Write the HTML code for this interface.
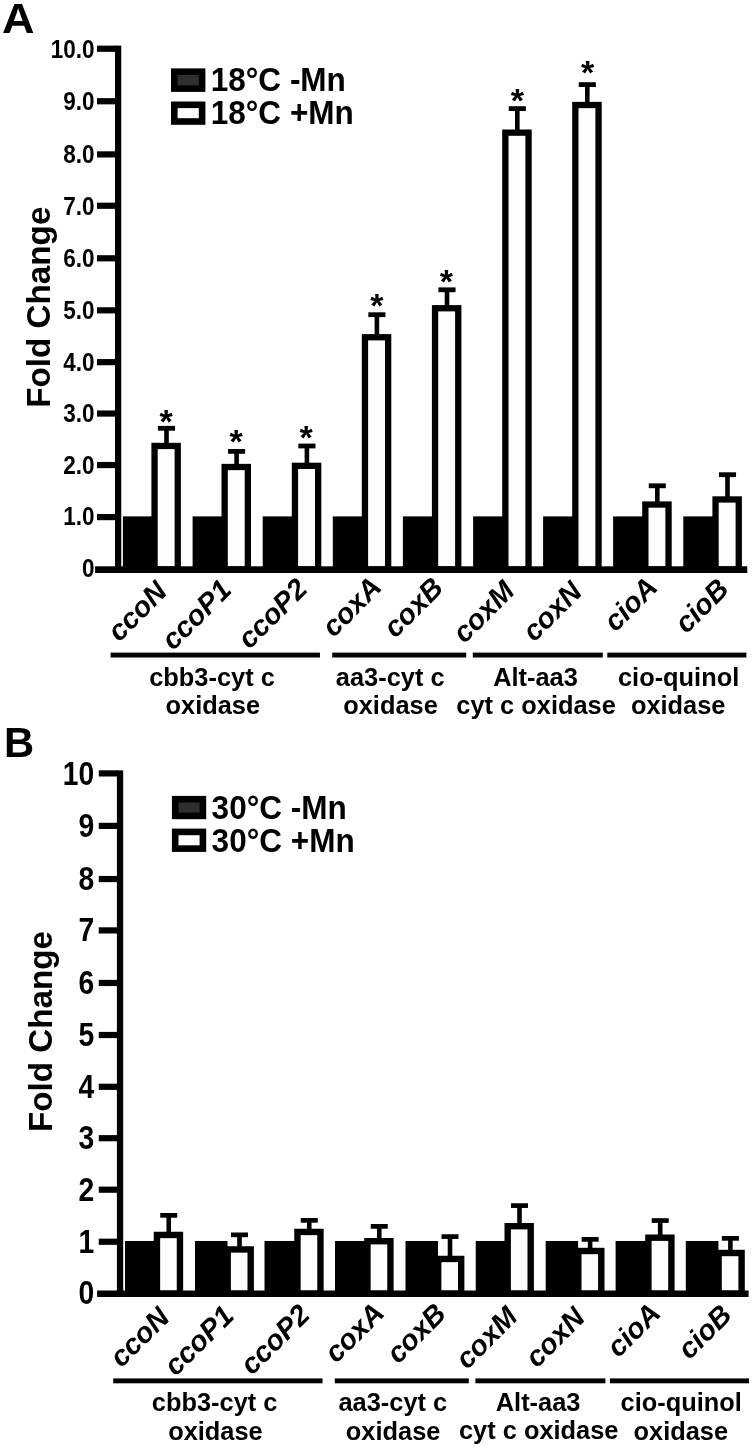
<!DOCTYPE html>
<html lang="en">
<head>
<meta charset="utf-8">
<title>Fold change of terminal oxidase genes</title>
<style>
html,body{margin:0;padding:0;background:#fff;}
body{width:752px;height:1448px;overflow:hidden;}
svg{display:block;}
text{white-space:pre;}
</style>
</head>
<body>
<svg width="752" height="1448" viewBox="0 0 752 1448" font-family="'Liberation Sans', sans-serif" font-weight="bold" fill="#000">
<g id="panel-A">
<rect x="122.9" y="516.4" width="31.5" height="50.9" fill="#000"/>
<rect x="151.4" y="442.8" width="29.5" height="124.5" fill="#000"/>
<rect x="157.7" y="449.1" width="16.9" height="117.2" fill="#fdfdfd"/>
<rect x="164.2" y="426.9" width="4.6" height="16.9" fill="#000"/>
<rect x="157.95" y="425.9" width="17.1" height="4.8" fill="#000"/>
<text transform="translate(166.1 432.76)" font-size="34" text-anchor="middle">*</text>
<rect x="192.6" y="516.4" width="31.9" height="50.9" fill="#000"/>
<rect x="221.5" y="463.85" width="29.5" height="103.45" fill="#000"/>
<rect x="227.8" y="470.15" width="16.9" height="96.15" fill="#fdfdfd"/>
<rect x="234.3" y="450" width="4.6" height="14.85" fill="#000"/>
<rect x="228.05" y="449" width="17.1" height="4.8" fill="#000"/>
<text transform="translate(236.1 453.16)" font-size="34" text-anchor="middle">*</text>
<rect x="262.7" y="516.4" width="32.1" height="50.9" fill="#000"/>
<rect x="291.8" y="462.7" width="29.5" height="104.6" fill="#000"/>
<rect x="298.1" y="469" width="16.9" height="97.3" fill="#fdfdfd"/>
<rect x="304.6" y="444.6" width="4.6" height="19.1" fill="#000"/>
<rect x="298.35" y="443.6" width="17.1" height="4.8" fill="#000"/>
<text transform="translate(306.2 448.86)" font-size="34" text-anchor="middle">*</text>
<rect x="332.8" y="516.4" width="32" height="50.9" fill="#000"/>
<rect x="361.8" y="334.1" width="29.5" height="233.2" fill="#000"/>
<rect x="368.1" y="340.4" width="16.9" height="225.9" fill="#fdfdfd"/>
<rect x="374.6" y="313.3" width="4.6" height="21.8" fill="#000"/>
<rect x="368.35" y="312.3" width="17.1" height="4.8" fill="#000"/>
<text transform="translate(376.9 316.66)" font-size="34" text-anchor="middle">*</text>
<rect x="402.9" y="516.4" width="32" height="50.9" fill="#000"/>
<rect x="431.9" y="305.1" width="29.5" height="262.2" fill="#000"/>
<rect x="438.2" y="311.4" width="16.9" height="254.9" fill="#fdfdfd"/>
<rect x="444.7" y="288.4" width="4.6" height="17.7" fill="#000"/>
<rect x="438.45" y="287.4" width="17.1" height="4.8" fill="#000"/>
<text transform="translate(446.35 292.76)" font-size="34" text-anchor="middle">*</text>
<rect x="473.1" y="516.4" width="32.1" height="50.9" fill="#000"/>
<rect x="502.2" y="129.5" width="29.5" height="437.8" fill="#000"/>
<rect x="508.5" y="135.8" width="16.9" height="430.5" fill="#fdfdfd"/>
<rect x="515" y="107.2" width="4.6" height="23.3" fill="#000"/>
<rect x="508.75" y="106.2" width="17.1" height="4.8" fill="#000"/>
<text transform="translate(517.35 111.96)" font-size="34" text-anchor="middle">*</text>
<rect x="543.1" y="516.4" width="32.1" height="50.9" fill="#000"/>
<rect x="572.2" y="101.85" width="29.5" height="465.45" fill="#000"/>
<rect x="578.5" y="108.15" width="16.9" height="458.15" fill="#fdfdfd"/>
<rect x="585" y="83.2" width="4.6" height="19.65" fill="#000"/>
<rect x="578.75" y="82.2" width="17.1" height="4.8" fill="#000"/>
<text transform="translate(587.5 84.46)" font-size="34" text-anchor="middle">*</text>
<rect x="613.1" y="516.4" width="32.1" height="50.9" fill="#000"/>
<rect x="642.2" y="501.4" width="29.5" height="65.9" fill="#000"/>
<rect x="648.5" y="507.7" width="16.9" height="58.6" fill="#fdfdfd"/>
<rect x="655" y="484.4" width="4.6" height="18" fill="#000"/>
<rect x="648.75" y="483.4" width="17.1" height="4.8" fill="#000"/>
<rect x="683.3" y="516.4" width="32.1" height="50.9" fill="#000"/>
<rect x="712.4" y="496.3" width="29.5" height="71" fill="#000"/>
<rect x="718.7" y="502.6" width="16.9" height="63.7" fill="#fdfdfd"/>
<rect x="725.2" y="473.3" width="4.6" height="24" fill="#000"/>
<rect x="718.95" y="472.3" width="17.1" height="4.8" fill="#000"/>
<rect x="115" y="45.6" width="6.25" height="527.4" fill="#000"/>
<rect x="95.1" y="566.3" width="652.15" height="6.7" fill="#000"/>
<text transform="translate(94.6 576.65) scale(0.8720 1)" font-size="25.8" text-anchor="end">0</text>
<rect x="97" y="514" width="19" height="6.2" fill="#000"/>
<text transform="translate(94.6 525.35) scale(0.8720 1)" font-size="25.8" text-anchor="end">1.0</text>
<rect x="97" y="461.95" width="19" height="6.2" fill="#000"/>
<text transform="translate(94.6 474.2) scale(0.8720 1)" font-size="25.8" text-anchor="end">2.0</text>
<rect x="97" y="410.45" width="19" height="6.2" fill="#000"/>
<text transform="translate(94.6 421.8) scale(0.8720 1)" font-size="25.8" text-anchor="end">3.0</text>
<rect x="97" y="359.05" width="19" height="6.2" fill="#000"/>
<text transform="translate(94.6 371.3) scale(0.8720 1)" font-size="25.8" text-anchor="end">4.0</text>
<rect x="97" y="307.25" width="19" height="6.2" fill="#000"/>
<text transform="translate(94.6 318.5) scale(0.8720 1)" font-size="25.8" text-anchor="end">5.0</text>
<rect x="97" y="255.2" width="19" height="6.2" fill="#000"/>
<text transform="translate(94.6 266.85) scale(0.8720 1)" font-size="25.8" text-anchor="end">6.0</text>
<rect x="97" y="202.65" width="19" height="6.2" fill="#000"/>
<text transform="translate(94.6 214.5) scale(0.8720 1)" font-size="25.8" text-anchor="end">7.0</text>
<rect x="97" y="151.3" width="19" height="6.2" fill="#000"/>
<text transform="translate(94.6 163.15) scale(0.8720 1)" font-size="25.8" text-anchor="end">8.0</text>
<rect x="97" y="98.15" width="19" height="6.2" fill="#000"/>
<text transform="translate(94.6 110) scale(0.8720 1)" font-size="25.8" text-anchor="end">9.0</text>
<rect x="97" y="45.65" width="19" height="6.2" fill="#000"/>
<text transform="translate(94.6 57.5) scale(0.8720 1)" font-size="25.8" text-anchor="end">10.0</text>
<text transform="translate(49.8 307.2) rotate(-90) scale(1.0160 1)" font-size="32.7" text-anchor="middle">Fold Change</text>
<text transform="translate(2 33.1) scale(1.0550 1)" font-size="42.7">A</text>
<rect x="171" y="68.4" width="34.4" height="23.5" fill="#000"/>
<rect x="177.6" y="75" width="21.2" height="10.3" fill="#2f2f2f"/>
<text transform="translate(210.7 91.4) scale(0.9760 1)" font-size="32.3">18°C -Mn</text>
<rect x="171" y="101.5" width="34.4" height="23.3" fill="#000"/>
<rect x="177.6" y="108.1" width="21.2" height="10.1" fill="#fdfdfd"/>
<text transform="translate(210.7 124.4) scale(0.9760 1)" font-size="32.3">18°C +Mn</text>
<text transform="translate(168.6 593.2) rotate(-45)" font-size="28.6" font-style="italic" text-anchor="end">ccoN</text>
<text transform="translate(232.9 591.6) rotate(-45)" font-size="28.6" font-style="italic" text-anchor="end">ccoP1</text>
<text transform="translate(309 590.5) rotate(-45)" font-size="28.6" font-style="italic" text-anchor="end">ccoP2</text>
<text transform="translate(383.1 588.7) rotate(-45)" font-size="28.6" font-style="italic" text-anchor="end">coxA</text>
<text transform="translate(444.8 589.5) rotate(-45)" font-size="28.6" font-style="italic" text-anchor="end">coxB</text>
<text transform="translate(516.2 592.6) rotate(-45)" font-size="28.6" font-style="italic" text-anchor="end">coxM</text>
<text transform="translate(583.6 593.3) rotate(-45)" font-size="28.6" font-style="italic" text-anchor="end">coxN</text>
<text transform="translate(659.2 588.9) rotate(-45)" font-size="28.6" font-style="italic" text-anchor="end">cioA</text>
<text transform="translate(730.3 590.7) rotate(-45)" font-size="28.6" font-style="italic" text-anchor="end">cioB</text>
<rect x="110.6" y="652.6" width="209.35" height="4.9" fill="#000"/>
<rect x="332.2" y="652.6" width="134" height="4.9" fill="#000"/>
<rect x="472.8" y="652.6" width="130" height="4.9" fill="#000"/>
<rect x="607.3" y="652.6" width="139.1" height="4.9" fill="#000"/>
<text transform="translate(212 685.5) scale(1.0200 1)" font-size="24.9" text-anchor="middle">cbb3-cyt c</text>
<text transform="translate(212.8 713.8) scale(1.0200 1)" font-size="24.9" text-anchor="middle">oxidase</text>
<text transform="translate(390.2 685.5) scale(1.0200 1)" font-size="24.9" text-anchor="middle">aa3-cyt c</text>
<text transform="translate(390.5 713.8) scale(1.0200 1)" font-size="24.9" text-anchor="middle">oxidase</text>
<text transform="translate(535.5 685.5) scale(1.0200 1)" font-size="24.9" text-anchor="middle">Alt-aa3</text>
<text transform="translate(536.1 713.6) scale(1.0200 1)" font-size="24.9" text-anchor="middle">cyt c oxidase</text>
<text transform="translate(678.6 685.5) scale(1.0200 1)" font-size="24.9" text-anchor="middle">cio-quinol</text>
<text transform="translate(678.2 713.8) scale(1.0200 1)" font-size="24.9" text-anchor="middle">oxidase</text>
</g>
<g id="panel-B">
<rect x="125" y="1241" width="31.75" height="50.5" fill="#000"/>
<rect x="153.75" y="1231.75" width="29.4" height="59.75" fill="#000"/>
<rect x="160.15" y="1238.15" width="16.6" height="52.35" fill="#fdfdfd"/>
<rect x="166.45" y="1214" width="4.6" height="18.75" fill="#000"/>
<rect x="160.25" y="1213" width="17" height="4.7" fill="#000"/>
<rect x="195" y="1241" width="32.5" height="50.5" fill="#000"/>
<rect x="224.5" y="1246.25" width="29.4" height="45.25" fill="#000"/>
<rect x="230.9" y="1252.65" width="16.6" height="37.85" fill="#fdfdfd"/>
<rect x="237.2" y="1233.5" width="4.6" height="13.75" fill="#000"/>
<rect x="231" y="1232.5" width="17" height="4.7" fill="#000"/>
<rect x="264.5" y="1241" width="32.75" height="50.5" fill="#000"/>
<rect x="294.25" y="1228.75" width="29.4" height="62.75" fill="#000"/>
<rect x="300.65" y="1235.15" width="16.6" height="55.35" fill="#fdfdfd"/>
<rect x="306.95" y="1219" width="4.6" height="10.75" fill="#000"/>
<rect x="300.75" y="1218" width="17" height="4.7" fill="#000"/>
<rect x="335" y="1241" width="32.25" height="50.5" fill="#000"/>
<rect x="364.25" y="1238" width="29.4" height="53.5" fill="#000"/>
<rect x="370.65" y="1244.4" width="16.6" height="46.1" fill="#fdfdfd"/>
<rect x="376.95" y="1225" width="4.6" height="14" fill="#000"/>
<rect x="370.75" y="1224" width="17" height="4.7" fill="#000"/>
<rect x="405.5" y="1241" width="32.5" height="50.5" fill="#000"/>
<rect x="435" y="1255.75" width="29.4" height="35.75" fill="#000"/>
<rect x="441.4" y="1262.15" width="16.6" height="28.35" fill="#fdfdfd"/>
<rect x="447.7" y="1235.25" width="4.6" height="21.5" fill="#000"/>
<rect x="441.5" y="1234.25" width="17" height="4.7" fill="#000"/>
<rect x="475.75" y="1241" width="31.75" height="50.5" fill="#000"/>
<rect x="504.5" y="1223" width="29.4" height="68.5" fill="#000"/>
<rect x="510.9" y="1229.4" width="16.6" height="61.1" fill="#fdfdfd"/>
<rect x="517.2" y="1204.25" width="4.6" height="19.75" fill="#000"/>
<rect x="511" y="1203.25" width="17" height="4.7" fill="#000"/>
<rect x="545.7" y="1241" width="32.4" height="50.5" fill="#000"/>
<rect x="575.1" y="1247.8" width="29.4" height="43.7" fill="#000"/>
<rect x="581.5" y="1254.2" width="16.6" height="36.3" fill="#fdfdfd"/>
<rect x="587.8" y="1238" width="4.6" height="10.8" fill="#000"/>
<rect x="581.6" y="1237" width="17" height="4.7" fill="#000"/>
<rect x="615.6" y="1241" width="32.6" height="50.5" fill="#000"/>
<rect x="645.2" y="1234.5" width="29.4" height="57" fill="#000"/>
<rect x="651.6" y="1240.9" width="16.6" height="49.6" fill="#fdfdfd"/>
<rect x="657.9" y="1219.2" width="4.6" height="16.3" fill="#000"/>
<rect x="651.7" y="1218.2" width="17" height="4.7" fill="#000"/>
<rect x="685.8" y="1241" width="32.6" height="50.5" fill="#000"/>
<rect x="715.4" y="1249.8" width="29.4" height="41.7" fill="#000"/>
<rect x="721.8" y="1256.2" width="16.6" height="34.3" fill="#fdfdfd"/>
<rect x="728.1" y="1237" width="4.6" height="13.8" fill="#000"/>
<rect x="721.9" y="1236" width="17" height="4.7" fill="#000"/>
<rect x="116.9" y="770.4" width="6.3" height="526.6" fill="#000"/>
<rect x="97.1" y="1290.5" width="651.5" height="6.5" fill="#000"/>
<text transform="translate(94.25 1303.9) scale(0.8700 1)" font-size="32.5" text-anchor="end">0</text>
<rect x="98.75" y="1238.65" width="19.15" height="6.2" fill="#000"/>
<text transform="translate(94.25 1252.95) scale(0.8700 1)" font-size="32.5" text-anchor="end">1</text>
<rect x="98.75" y="1186.6" width="19.15" height="6.2" fill="#000"/>
<text transform="translate(94.25 1200.9) scale(0.8700 1)" font-size="32.5" text-anchor="end">2</text>
<rect x="98.75" y="1135.1" width="19.15" height="6.2" fill="#000"/>
<text transform="translate(94.25 1149.4) scale(0.8700 1)" font-size="32.5" text-anchor="end">3</text>
<rect x="98.75" y="1083.7" width="19.15" height="6.2" fill="#000"/>
<text transform="translate(94.25 1098) scale(0.8700 1)" font-size="32.5" text-anchor="end">4</text>
<rect x="98.75" y="1031.9" width="19.15" height="6.2" fill="#000"/>
<text transform="translate(94.25 1046.2) scale(0.8700 1)" font-size="32.5" text-anchor="end">5</text>
<rect x="98.75" y="979.85" width="19.15" height="6.2" fill="#000"/>
<text transform="translate(94.25 994.15) scale(0.8700 1)" font-size="32.5" text-anchor="end">6</text>
<rect x="98.75" y="927.3" width="19.15" height="6.2" fill="#000"/>
<text transform="translate(94.25 941.3) scale(0.8700 1)" font-size="32.5" text-anchor="end">7</text>
<rect x="98.75" y="875.95" width="19.15" height="6.2" fill="#000"/>
<text transform="translate(94.25 890.25) scale(0.8700 1)" font-size="32.5" text-anchor="end">8</text>
<rect x="98.75" y="822.8" width="19.15" height="6.2" fill="#000"/>
<text transform="translate(94.25 836.6) scale(0.8700 1)" font-size="32.5" text-anchor="end">9</text>
<rect x="98.75" y="770.3" width="19.15" height="6.2" fill="#000"/>
<text transform="translate(94.25 784.7) scale(0.8700 1)" font-size="32.5" text-anchor="end">10</text>
<text transform="translate(51.8 1031.5) rotate(-90) scale(1.0160 1)" font-size="32.7" text-anchor="middle">Fold Change</text>
<text transform="translate(4 757.3) scale(0.9800 1)" font-size="42.6">B</text>
<rect x="171.9" y="795.9" width="34.3" height="23.3" fill="#000"/>
<rect x="178.5" y="802.5" width="21.1" height="10.1" fill="#2f2f2f"/>
<text transform="translate(211.6 818.8) scale(0.9760 1)" font-size="32.3">30°C -Mn</text>
<rect x="171.9" y="828.6" width="34.3" height="23.3" fill="#000"/>
<rect x="178.5" y="835.2" width="21.1" height="10.1" fill="#fdfdfd"/>
<text transform="translate(211.6 851.7) scale(0.9760 1)" font-size="32.3">30°C +Mn</text>
<text transform="translate(171.06 1319.1) rotate(-45)" font-size="28.6" font-style="italic" text-anchor="end">ccoN</text>
<text transform="translate(235.43 1317.5) rotate(-45)" font-size="28.6" font-style="italic" text-anchor="end">ccoP1</text>
<text transform="translate(311.62 1316.4) rotate(-45)" font-size="28.6" font-style="italic" text-anchor="end">ccoP2</text>
<text transform="translate(385.8 1314.6) rotate(-45)" font-size="28.6" font-style="italic" text-anchor="end">coxA</text>
<text transform="translate(447.57 1315.4) rotate(-45)" font-size="28.6" font-style="italic" text-anchor="end">coxB</text>
<text transform="translate(519.04 1318.5) rotate(-45)" font-size="28.6" font-style="italic" text-anchor="end">coxM</text>
<text transform="translate(586.52 1319.2) rotate(-45)" font-size="28.6" font-style="italic" text-anchor="end">coxN</text>
<text transform="translate(662.2 1314.8) rotate(-45)" font-size="28.6" font-style="italic" text-anchor="end">cioA</text>
<text transform="translate(733.38 1316.6) rotate(-45)" font-size="28.6" font-style="italic" text-anchor="end">cioB</text>
<rect x="113.2" y="1378.4" width="209.35" height="4.9" fill="#000"/>
<rect x="334.8" y="1378.4" width="134" height="4.9" fill="#000"/>
<rect x="475.4" y="1378.4" width="130" height="4.9" fill="#000"/>
<rect x="609.9" y="1378.4" width="139.1" height="4.9" fill="#000"/>
<text transform="translate(214.6 1411.3) scale(1.0200 1)" font-size="24.9" text-anchor="middle">cbb3-cyt c</text>
<text transform="translate(215.4 1439.6) scale(1.0200 1)" font-size="24.9" text-anchor="middle">oxidase</text>
<text transform="translate(392.8 1411.3) scale(1.0200 1)" font-size="24.9" text-anchor="middle">aa3-cyt c</text>
<text transform="translate(393.1 1439.6) scale(1.0200 1)" font-size="24.9" text-anchor="middle">oxidase</text>
<text transform="translate(538.1 1411.3) scale(1.0200 1)" font-size="24.9" text-anchor="middle">Alt-aa3</text>
<text transform="translate(538.7 1439.4) scale(1.0200 1)" font-size="24.9" text-anchor="middle">cyt c oxidase</text>
<text transform="translate(681.2 1411.3) scale(1.0200 1)" font-size="24.9" text-anchor="middle">cio-quinol</text>
<text transform="translate(680.8 1439.6) scale(1.0200 1)" font-size="24.9" text-anchor="middle">oxidase</text>
</g>
</svg>
</body>
</html>
